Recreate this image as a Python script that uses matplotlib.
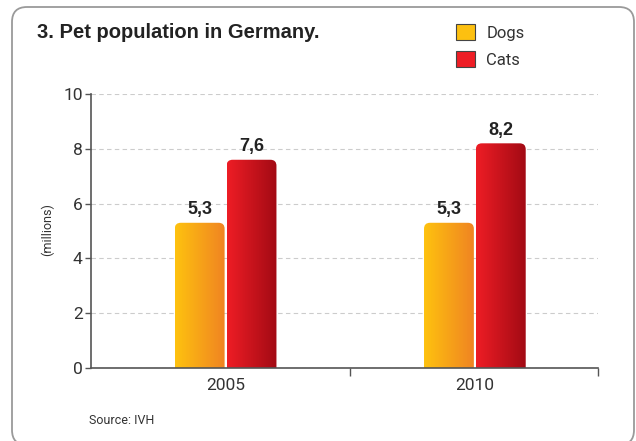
import numpy as np
import matplotlib
matplotlib.use("Agg")
import matplotlib.pyplot as plt
from matplotlib.patches import FancyBboxPatch, Patch
from matplotlib.colors import LinearSegmentedColormap

# data
years = ["2005", "2010"]
dogs = [5.3, 5.3]
cats = [7.6, 8.2]
series_names = ["Dogs", "Cats"]
y_ticks = [0, 2, 4, 6, 8, 10]

narrow = ["Roboto", "DejaVu Sans"]
plain = ["Liberation Sans", "DejaVu Sans"]
txt = "#333333"

dog_cmap = LinearSegmentedColormap.from_list("dog", ["#fec20f", "#f08422"])
cat_cmap = LinearSegmentedColormap.from_list("cat", ["#ee1d25", "#a20a14"])

W, H = 636, 441
fig = plt.figure(figsize=(W / 100, H / 100), dpi=100)
fig.patch.set_facecolor("white")

# rounded frame around the whole chart
frame = FancyBboxPatch((12 / W, -4 / H), 622 / W, 438 / H,
                       boxstyle="round,pad=0,rounding_size=%f" % (15 / W),
                       mutation_aspect=W / H, transform=fig.transFigure,
                       facecolor="none", edgecolor="#9a9a9a", linewidth=1.3)
fig.patches.append(frame)

left, right, bottom, top = 91, 598, 368, 94
ax = fig.add_axes([left / W, 1 - bottom / H, (right - left) / W, (bottom - top) / H])
xmin, xmax = -0.54, 1.494
ax.set_xlim(xmin, xmax)
ax.set_ylim(0, 10)

x = np.arange(len(years))
bw = 0.2
off = 0.104
bars_d = ax.bar(x - off, dogs, bw, color="none", edgecolor="none")
bars_c = ax.bar(x + off, cats, bw, color="none", edgecolor="none")

# aspect to keep the rounded corners circular
px_x = (right - left) / (xmax - xmin)
px_y = (bottom - top) / 10
aspect = px_x / px_y
r = 6 / px_x
grad = np.linspace(0, 1, 256).reshape(1, -1)

for bars, cmap in [(bars_d, dog_cmap), (bars_c, cat_cmap)]:
    for b in bars:
        x0, w, h = b.get_x(), b.get_width(), b.get_height()
        shape = FancyBboxPatch((x0, -1), w, h + 1,
                               boxstyle="round,pad=0,rounding_size=%f" % r,
                               mutation_aspect=aspect, facecolor="none",
                               edgecolor="none")
        ax.add_patch(shape)
        im = ax.imshow(grad, cmap=cmap, aspect="auto", extent=(x0, x0 + w, 0, h),
                       zorder=2)
        im.set_clip_path(shape)
        ax.text(x0 + w / 2, h + 0.17, ("%.1f" % h).replace(".", ","),
                ha="center", va="bottom", fontsize=13, fontweight="bold",
                color="#222222", family=plain)

ax.set_xlim(xmin, xmax)
ax.set_ylim(0, 10)

# grid
ax.set_yticks(y_ticks)
ax.yaxis.grid(True, linestyle=(0, (4, 3)), color="#cccccc", linewidth=0.8)
ax.set_axisbelow(True)

for s in ["top", "right"]:
    ax.spines[s].set_visible(False)
for s in ["left", "bottom"]:
    ax.spines[s].set_color("#555555")
    ax.spines[s].set_linewidth(1.2)

ax.tick_params(axis="y", length=4, width=1, color="#555555", pad=2,
               labelsize=12.5, labelcolor=txt)
for t in ax.get_yticklabels():
    t.set_family(narrow)

ax.set_xticks([0.5, xmax])
ax.set_xticklabels(["", ""])
ax.tick_params(axis="x", which="major", length=6, width=1, color="#555555")
ax.set_xticks(x, minor=True)
ax.set_xticklabels(years, minor=True)
ax.tick_params(axis="x", which="minor", length=0, pad=7, labelsize=12.5,
               labelcolor=txt)
for t in ax.get_xticklabels(minor=True):
    t.set_family(narrow)

fig.text(47 / W, 1 - 230 / H, "(millions)", rotation=90, ha="center", va="center",
         fontsize=9, color=txt, family=narrow)

fig.text(37 / W, 1 - 33 / H, "3. Pet population in Germany.", ha="left", va="center",
         fontsize=14.5, fontweight="bold", color="#222222", family=plain)

fig.text(89 / W, 1 - 421 / H, "Source: IVH", ha="left", va="center",
         fontsize=9, color=txt, family=narrow)

handles = [Patch(facecolor="#fdc010", edgecolor="#444444", linewidth=0.8),
           Patch(facecolor="#ee1d25", edgecolor="#444444", linewidth=0.8)]
fig.legend(handles, series_names, loc="upper left", bbox_to_anchor=(453 / W, 1 - 21 / H),
           frameon=False, handlelength=1.1, handleheight=1.1, handletextpad=0.7,
           labelspacing=0.62, prop={"family": narrow, "size": 12},
           labelcolor=txt, borderaxespad=0, borderpad=0.2)

fig.savefig("out.png", dpi=100)
